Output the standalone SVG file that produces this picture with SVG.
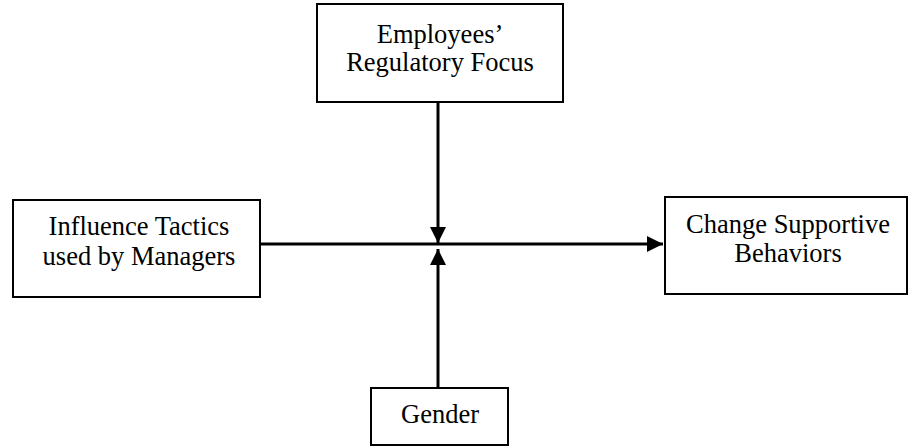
<svg xmlns="http://www.w3.org/2000/svg" width="908" height="447" viewBox="0 0 908 447">
<style>
.box{fill:#fff;stroke:#000;stroke-width:2}
.t{font-family:"Liberation Serif","Times New Roman","DejaVu Serif",serif;font-size:26.5px;fill:#000;text-anchor:middle}
.c{stroke:#000;stroke-width:3;fill:none}
</style>
<defs>
<marker id="ah" viewBox="0 0 16 16" refX="16" refY="8" markerWidth="16" markerHeight="16" markerUnits="userSpaceOnUse" orient="auto">
<path d="M0,0 L16,8 L0,16 Z" fill="#000"/>
</marker>
</defs>
<g id="connectors">
<line class="c" x1="260" y1="244" x2="663" y2="244" marker-end="url(#ah)"/>
<line class="c" x1="438" y1="102" x2="438" y2="243" marker-end="url(#ah)"/>
<line class="c" x1="438" y1="388" x2="438" y2="249" marker-end="url(#ah)"/>
</g>
<g id="node-focus">
<rect class="box" x="317" y="4" width="246" height="98"/>
<text class="t" x="440" y="43">Employees’</text>
<text class="t" x="440" y="71">Regulatory Focus</text>
</g>
<g id="node-tactics">
<rect class="box" x="13" y="200" width="247" height="97"/>
<text class="t" x="139" y="235">Influence Tactics</text>
<text class="t" x="139" y="265">used by Managers</text>
</g>
<g id="node-behaviors">
<rect class="box" x="665" y="197" width="242" height="97"/>
<text class="t" x="788" y="233">Change Supportive</text>
<text class="t" x="788" y="262">Behaviors</text>
</g>
<g id="node-gender">
<rect class="box" x="371" y="388" width="137" height="57"/>
<text class="t" x="440" y="423">Gender</text>
</g>
</svg>
